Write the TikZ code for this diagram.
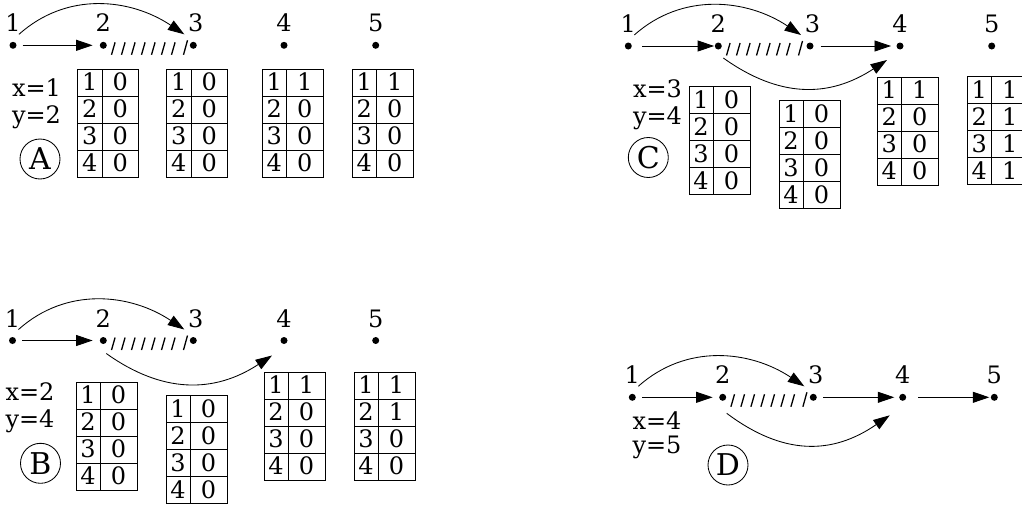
\documentclass[tikz,border=0pt]{standalone}
\usepackage{fontspec}
\setmainfont{DejaVu Serif}
\usetikzlibrary{arrows.meta}
\newcommand\mkdots[3]{%
  \foreach \xx [count=\k] in {#3} {%
    \pgfmathsetmacro\dx{\k==3 ? 2.5 : 0}%
    \node[dot] (#1\k) at (\xx,#2) {};
    \node[lbl,xshift=\dx pt] (#1t\k) at (#1\k) {\k};
  }}
\newcommand\mkhatch[1]{%
  \foreach \i in {1,...,7} \draw[hatch] ([shift={(10*\i-1.8,9.5)}]#1.center) -- ++(3.6,-12.5);
  \draw[hatch] ([shift={(80.2,9.5)}]#1.center) -- ++(4,-14.5);}
\newcommand\tbl[4]{%
  \draw[tab] (#2,#3) rectangle ++(61,108);
  \draw[tab] (#2+24.5,#3) -- ++(0,108);
  \foreach \k in {1,2,3} \draw[tab] (#2,#3+27*\k) -- ++(61,0);
  \foreach \v [count=\k] in {#4} {%
    \node[cell] (#1l\k) at (#2+12,#3+27*\k-5.5) {\k};
    \node[cell] (#1r\k) at (#2+42.5,#3+27*\k-5.5) {\v};
  }}
\begin{document}
\begin{tikzpicture}[x=1pt,y=-1pt,
  every node/.style={font=\fontsize{24}{28}\selectfont},
  dot/.style={circle,fill=black,inner sep=0pt,minimum size=7pt},
  lbl/.style={anchor=base,inner sep=0pt,yshift=13.5pt},
  arr/.style={line width=0.85pt,-{Triangle[length=16.5pt,width=11pt]}},
  tab/.style={line width=0.85pt},
  cell/.style={anchor=base,inner sep=0pt},
  var/.style={anchor=base,inner sep=0pt},
  tag/.style={circle,draw,line width=0.85pt,minimum size=40pt,inner sep=0pt,font=\fontsize{30}{32}\selectfont},
  hatch/.style={line width=1.3pt}]
\clip (0,0) rectangle (1022,506);
\fill[white] (0,0) rectangle (1022,506);

% ---------- Panel A ----------
\mkdots{a}{45.3}{13,103.3,193.3,284,375.7}
\draw[arr,shorten <=6pt,shorten >=7pt] (a1) -- (a2);
\mkhatch{a2}
\draw[arr] ([shift={(6,-11)}]a1.center) .. controls +(48,-43) and +(-54,-36) .. ([shift={(-9,-11)}]a3.center);
\node[var] (ax) at (36.5,96) {x=1};
\node[var] (ay) at (36.5,123) {y=2};
\node[tag] (aA) at (40,159) {A};
\tbl{aT1}{77.7}{69}{0,0,0,0}
\tbl{aT2}{166.7}{69}{0,0,0,0}
\tbl{aT3}{262.3}{69}{1,0,0,0}
\tbl{aT4}{352.3}{69}{1,0,0,0}

% ---------- Panel B ----------
\mkdots{b}{340.5}{12.5,103.3,193.3,284,375.7}
\draw[arr,shorten <=6pt,shorten >=7pt] (b1) -- (b2);
\mkhatch{b2}
\draw[arr] ([shift={(6,-11)}]b1.center) .. controls +(48,-43) and +(-54,-36) .. ([shift={(-9,-11)}]b3.center);
\draw[arr] ([shift={(3,13)}]b2.center) .. controls +(56,40) and +(-58,38) .. ([shift={(-12,15)}]b4.center);
\node[var] (bx) at (30,400) {x=2};
\node[var] (by) at (30,427) {y=4};
\node[tag] (bB) at (40.5,463.3) {B};
\tbl{bT1}{76}{382.3}{0,0,0,0}
\tbl{bT2}{166}{395.7}{0,0,0,0}
\tbl{bT3}{264}{372.3}{1,0,0,0}
\tbl{bT4}{354}{372.3}{1,1,0,0}

% ---------- Panel C ----------
\mkdots{c}{46}{628.3,718.3,810,900,991.7}
\draw[arr,shorten <=10pt,shorten >=0.5pt] (c1) -- (c2);
\draw[arr,shorten <=7pt,shorten >=5.3pt] (c3) -- (c4);
\mkhatch{c2}
\draw[arr] ([shift={(6,-11)}]c1.center) .. controls +(48,-43) and +(-54,-36) .. ([shift={(-9,-11)}]c3.center);
\draw[arr] ([shift={(5,12)}]c2.center) .. controls +(56,40) and +(-58,38) .. ([shift={(-13,14)}]c4.center);
\node[var] (cx) at (657.5,97) {x=3};
\node[var] (cy) at (657.5,124) {y=4};
\node[tag] (cC) at (648.3,157.5) {C};
\tbl{cT1}{689}{86.7}{0,0,0,0}
\tbl{cT2}{779}{100.7}{0,0,0,0}
\tbl{cT3}{877.3}{77.3}{1,0,0,0}
\tbl{cT4}{967.3}{76.7}{1,1,1,1}

% ---------- Panel D ----------
\mkdots{d}{397.3}{632.3,722.7,813.3,902.7,994.3}
\draw[arr,shorten <=6.4pt,shorten >=6.4pt] (d1) -- (d2);
\draw[arr,shorten <=6.4pt,shorten >=4.7pt] (d3) -- (d4);
\draw[arr,shorten <=11.6pt,shorten >=1.3pt] (d4) -- (d5);
\mkhatch{d2}
\draw[arr] ([shift={(6,-11)}]d1.center) .. controls +(48,-43) and +(-54,-36) .. ([shift={(-9,-11)}]d3.center);
\draw[arr] ([shift={(4,16)}]d2.center) .. controls +(56,42) and +(-58,40) .. ([shift={(-13,18)}]d4.center);
\node[var] (dx) at (657,429) {x=4};
\node[var] (dy) at (657,453) {y=5};
\node[tag] (dD) at (728,465) {D};
\end{tikzpicture}
\end{document}
